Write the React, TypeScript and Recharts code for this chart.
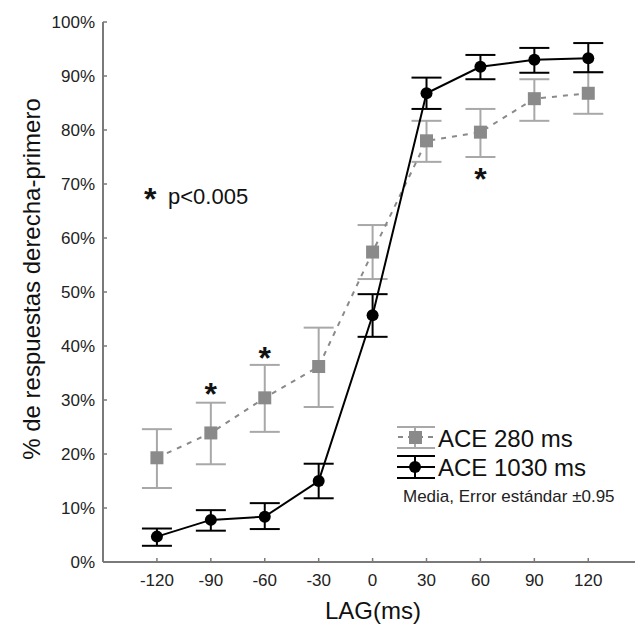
import { ErrorBar, Line, LineChart, ReferenceDot, XAxis, YAxis } from "recharts";

const lags = [-120, -90, -60, -30, 0, 30, 60, 90, 120];

const mean280 = [19.3, 23.9, 30.4, 36.2, 57.4, 78.0, 79.6, 85.8, 86.8];
const hi280 = [24.6, 29.5, 36.5, 43.4, 62.4, 81.7, 83.9, 89.4, 90.7];
const lo280 = [13.7, 18.1, 24.1, 28.7, 52.4, 74.1, 75.0, 81.7, 83.0];

const mean1030 = [4.7, 7.8, 8.4, 15.0, 45.7, 86.8, 91.7, 93.0, 93.3];
const hi1030 = [6.2, 9.6, 10.9, 18.2, 49.6, 89.7, 93.9, 95.2, 96.1];
const lo1030 = [3.0, 5.8, 6.1, 11.8, 41.7, 83.9, 89.4, 90.6, 90.7];

const yTicks = [0, 10, 20, 30, 40, 50, 60, 70, 80, 90, 100];

// significance markers
const starLags = [-90, -60, 60];
const starValues = [32.2, 38.9, 72.0];

const data = lags.map((lag, i) => ({
  lag,
  ace280: mean280[i],
  err280: [mean280[i] - lo280[i], hi280[i] - mean280[i]],
  ace1030: mean1030[i],
  err1030: [mean1030[i] - lo1030[i], hi1030[i] - mean1030[i]],
}));

const FONT = '"Liberation Sans", Arial, sans-serif';
const AXIS = "#7a7a7a";
const GRAY = "#8a8a8a";
const LIGHT = "#a8a8a8";

const XTick = ({ x, y, payload }: any) => (
  <g>
    <line x1={x} x2={x} y1={y} y2={y - 4} stroke={AXIS} strokeWidth={1.5} />
    <text x={x} y={y + 24} textAnchor="middle" fontSize={17} fill="#222" fontFamily={FONT}>
      {payload.value}
    </text>
  </g>
);

const YTick = ({ x, y, payload }: any) => (
  <g>
    <line x1={x} x2={x + 4} y1={y} y2={y} stroke={AXIS} strokeWidth={1.5} />
    <text x={x - 8} y={y + 6} textAnchor="end" fontSize={17} fill="#222" fontFamily={FONT}>
      {payload.value}%
    </text>
  </g>
);

const XTitle = () => (
  <text x={373} y={619} textAnchor="middle" fontSize={24} fill="#111" fontFamily={FONT}>
    LAG(ms)
  </text>
);

const YTitle = () => (
  <text x={40} y={279} transform="rotate(-90, 40, 279)" textAnchor="middle" fontSize={24} fill="#111" fontFamily={FONT}>
    % de respuestas derecha-primero
  </text>
);

const squareDot = (props: any) => {
  const { cx, cy, index } = props;
  return <rect key={`sq-${index}`} x={cx - 6.5} y={cy - 6.5} width={13} height={13} fill={GRAY} />;
};

const circleDot = (props: any) => {
  const { cx, cy, index } = props;
  return <circle key={`ci-${index}`} cx={cx} cy={cy} r={6} fill="#000" />;
};

const Star = ({ cx, cy }: any) => (
  <text x={cx} y={cy + 17} textAnchor="middle" fontSize={32} fontWeight="bold" fill="#111" fontFamily={FONT}>
    *
  </text>
);

function LegendBox() {
  return (
    <svg width={245} height={90} style={{ position: "absolute", left: 390, top: 420 }}>
      {/* ACE 280 */}
      <line x1={7} x2={45} y1={7} y2={7} stroke={LIGHT} strokeWidth={2} />
      <line x1={7} x2={45} y1={28} y2={28} stroke={LIGHT} strokeWidth={2} />
      <line x1={25} x2={25} y1={7} y2={28} stroke={LIGHT} strokeWidth={2} />
      <line x1={8} x2={44} y1={17} y2={17} stroke={GRAY} strokeWidth={2} strokeDasharray="5 5" />
      <rect x={19} y={11} width={13} height={13} fill={GRAY} />
      <text x={48} y={27} fontSize={24} fill="#111" fontFamily={FONT}>ACE 280 ms</text>
      {/* ACE 1030 */}
      <line x1={7} x2={45} y1={36} y2={36} stroke="#000" strokeWidth={2} />
      <line x1={7} x2={45} y1={58} y2={58} stroke="#000" strokeWidth={2} />
      <line x1={25} x2={25} y1={36} y2={58} stroke="#000" strokeWidth={2} />
      <line x1={7} x2={45} y1={47} y2={47} stroke="#000" strokeWidth={2} />
      <circle cx={25} cy={47} r={6} fill="#000" />
      <text x={48} y={56} fontSize={24} fill="#111" fontFamily={FONT}>ACE 1030 ms</text>
      <text x={13} y={82} fontSize={17} fill="#222" fontFamily={FONT}>Media, Error estándar ±0.95</text>
    </svg>
  );
}

export default function App() {
  return (
    <div style={{ position: "absolute", left: 0, top: 0, width: 635, height: 625, background: "#fff", fontFamily: FONT }}>
      <LineChart width={635} height={625} data={data} margin={{ top: 22, right: 0, left: 0, bottom: 0 }}>
        <XAxis
          dataKey="lag"
          type="number"
          domain={[-150, 146]}
          ticks={lags}
          height={63}
          axisLine={{ stroke: AXIS, strokeWidth: 2 }}
          tickLine={false}
          tickSize={0}
          tickMargin={0}
          tick={<XTick />}
          label={<XTitle />}
        />
        <YAxis
          type="number"
          domain={[0, 100]}
          ticks={yTicks}
          width={103}
          axisLine={{ stroke: AXIS, strokeWidth: 2 }}
          tickLine={false}
          tickSize={0}
          tickMargin={0}
          tick={<YTick />}
          label={<YTitle />}
        />
        <Line
          dataKey="ace280"
          stroke={GRAY}
          strokeWidth={2}
          strokeDasharray="5 6"
          dot={squareDot}
          activeDot={false}
          isAnimationActive={false}
        >
          <ErrorBar dataKey="err280" direction="y" width={15} stroke={LIGHT} strokeWidth={2} />
        </Line>
        <Line
          dataKey="ace1030"
          stroke="#000"
          strokeWidth={2}
          dot={circleDot}
          activeDot={false}
          isAnimationActive={false}
        >
          <ErrorBar dataKey="err1030" direction="y" width={15} stroke="#000" strokeWidth={2} />
        </Line>
        {starLags.map((lag, i) => (
          <ReferenceDot key={lag} x={lag} y={starValues[i]} shape={<Star />} />
        ))}
      </LineChart>
      <svg width={140} height={40} style={{ position: "absolute", left: 140, top: 178 }}>
        <text x={4} y={32} fontSize={32} fontWeight="bold" fill="#111" fontFamily={FONT}>*</text>
        <text x={28} y={26} fontSize={22} fill="#111" fontFamily={FONT}>p&lt;0.005</text>
      </svg>
      <LegendBox />
    </div>
  );
}
